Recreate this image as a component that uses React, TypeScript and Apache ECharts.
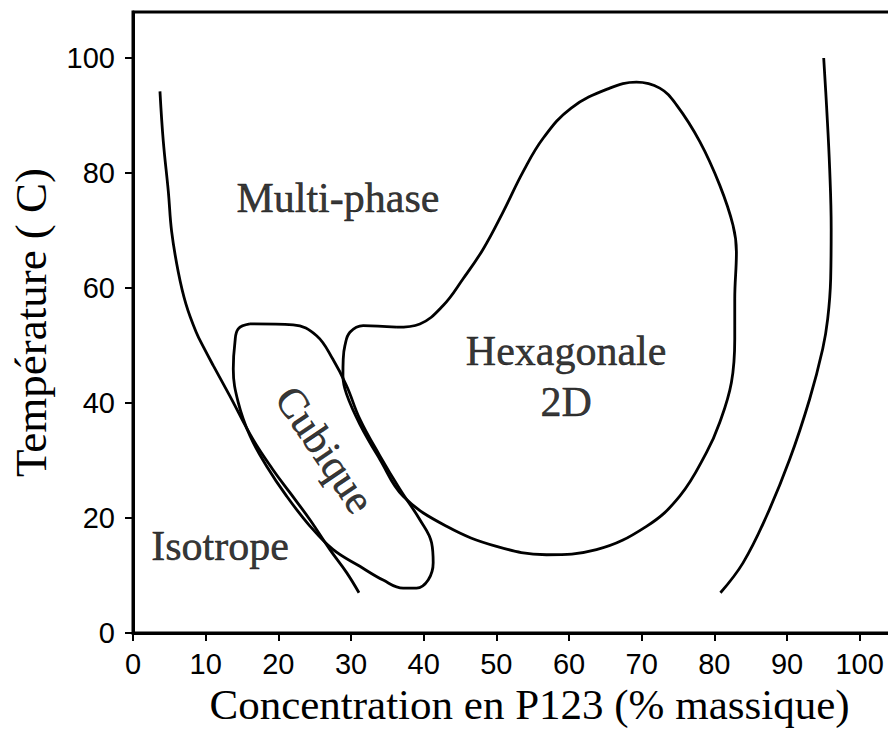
import React, { useEffect, useRef } from "react";
import * as echarts from "echarts";

const xTicks = [0, 10, 20, 30, 40, 50, 60, 70, 80, 90, 100];
const yTicks = [0, 20, 40, 60, 80, 100];

const xTitle = "Concentration en P123 (% massique)";
const yTitle = "Température ( C)";

// Isotrope boundary (left curve)
const isotropeCurve: number[][] = [
  [3.71, 94.2], [4.17, 85.5], [4.86, 76.8], [5.32, 69.8], [6.23, 62.8],
  [7.29, 57.2], [8.67, 52.4], [9.83, 49.4], [11.05, 46.5], [13.34, 41.2],
  [16.5, 33.7], [19.26, 28.4], [21.6, 24.4], [24.35, 19.7], [27.1, 14.5],
  [29.4, 10.5], [31.1, 7.0],
];

// Cubique closed loop
const cubiqueLoop: number[][] = [
  [16.09, 53.75], [22.05, 53.6], [25.27, 51.7], [27.51, 47.6], [29.39, 43.0],
  [31.22, 37.2], [33.98, 30.8], [36.73, 25.0], [39.48, 19.7], [41.09, 15.7],
  [41.31, 12.2], [40.62, 9.2], [39.02, 7.8], [37.18, 7.8], [34.43, 9.2],
  [31.22, 11.6], [27.55, 14.5], [24.35, 18.6], [21.14, 23.8], [18.39, 29.0],
  [16.09, 34.3], [14.48, 40.1], [13.8, 45.9], [14.03, 50.6], [14.48, 52.9],
  [16.09, 53.75],
];

// Hexagonale 2D closed loop
const hexaLoop: number[][] = [
  [36.27, 53.18], [39.48, 53.75], [42.68, 56.95], [45.43, 61.61], [48.18, 66.75],
  [50.94, 73.25], [53.69, 80.23], [56.44, 86.04], [60.3, 91.3],
  [65.61, 94.76], [69.28, 95.81], [72.49, 94.76], [74.79, 91.85], [78.0, 85.46],
  [80.74, 77.89], [82.57, 70.91], [83.04, 66.27], [82.81, 58.12], [82.81, 51.13],
  [82.35, 43.58], [80.74, 36.6], [78.91, 31.36], [75.24, 23.79], [70.66, 18.55],
  [63.78, 14.49], [56.9, 13.61], [50.03, 15.06], [43.15, 18.55], [37.18, 23.79],
  [33.98, 30.19], [31.22, 36.3], [29.39, 41.54], [28.89, 44.73], [28.93, 47.64],
  [29.16, 49.97], [29.85, 52.3], [31.68, 53.46], [36.27, 53.18],
];

// Right boundary curve
const rightCurve: number[][] = [
  [95.05, 100.0], [95.46, 91.27], [95.87, 80.8], [96.08, 70.33], [96.01, 61.61],
  [95.6, 54.62], [94.91, 49.39], [93.12, 40.7], [90.37, 30.2], [87.17, 20.3],
  [83.95, 12.2], [80.84, 7.0],
];

const regionNames = ["Multi-phase", "Hexagonale\n2D", "Isotrope", "Cubique"];
const regionPos: number[][] = [
  [28.2, 75.6],
  [59.6, 44.6],
  [11.97, 15.2],
  [26.4, 31.9],
];
const regionRotate = [0, 0, 0, -56];

const SERIF = "'Liberation Serif', 'Times New Roman', serif";
const SANS = "'Liberation Sans', Arial, sans-serif";

export default function App() {
  const ref = useRef<HTMLDivElement>(null);
  useEffect(() => {
    if (!ref.current) return;
    const chart = echarts.init(ref.current, undefined, { renderer: "svg" });
    const lineStyle = { color: "#000", width: 2.8 };
    const mkLine = (name: string, data: number[][]) => ({
      type: "line",
      name,
      data,
      smooth: 0.4,
      showSymbol: false,
      symbol: "none",
      silent: true,
      lineStyle,
      z: 3,
    });
    chart.setOption({
      animation: false,
      backgroundColor: "#fff",
      grid: {
        left: 133,
        top: 12,
        bottom: 120,
        width: 763,
        outerBoundsMode: "none",
        containLabel: false,
        show: true,
        borderColor: "#000",
        borderWidth: 3,
        backgroundColor: "transparent",
      },
      xAxis: {
        type: "value",
        min: 0,
        max: 105,
        interval: 5,
        name: xTitle,
        nameLocation: "middle",
        nameGap: 50,
        nameTextStyle: {
          fontFamily: SERIF,
          fontSize: 43,
          color: "#000",
          padding: [0, 0, 0, 30],
        },
        axisLine: { show: true, onZero: false, lineStyle: { color: "#000", width: 3 } },
        axisTick: {
          show: true,
          customValues: xTicks,
          length: 8,
          lineStyle: { color: "#000", width: 2 },
        },
        axisLabel: {
          customValues: xTicks,
          margin: 16,
          fontFamily: SANS,
          fontSize: 29,
          color: "#000",
          hideOverlap: false,
        },
        splitLine: { show: false },
      },
      yAxis: {
        type: "value",
        min: 0,
        max: 108,
        interval: 20,
        name: yTitle,
        nameLocation: "middle",
        nameGap: 80,
        nameRotate: 90,
        nameTextStyle: { fontFamily: SERIF, fontSize: 45, color: "#000" },
        axisLine: { show: true, onZero: false, lineStyle: { color: "#000", width: 3 } },
        axisTick: {
          show: true,
          customValues: yTicks,
          length: 8,
          lineStyle: { color: "#000", width: 2 },
        },
        axisLabel: {
          customValues: yTicks,
          margin: 18,
          fontFamily: SANS,
          fontSize: 29,
          color: "#000",
        },
        splitLine: { show: false },
      },
      series: [
        mkLine("Isotrope", isotropeCurve),
        mkLine("Cubique", cubiqueLoop),
        mkLine("Hexagonale 2D", hexaLoop),
        mkLine("Limite", rightCurve),
        {
          type: "scatter",
          symbolSize: 0,
          silent: true,
          z: 4,
          data: regionNames.map((n, i) => ({
            name: n,
            value: regionPos[i],
            label: {
              show: true,
              formatter: n,
              position: "inside",
              rotate: regionRotate[i],
              fontFamily: SERIF,
              fontSize: 42,
              lineHeight: 51,
              color: "#000",
              textBorderColor: "#000",
              textBorderWidth: 0.5,
              align: "center",
              verticalAlign: "middle",
            },
          })),
        },
      ],
    });
    return () => chart.dispose();
  }, []);
  return <div ref={ref} style={{ width: 888, height: 753, position: "absolute", left: 0, top: 0 }} />;
}
